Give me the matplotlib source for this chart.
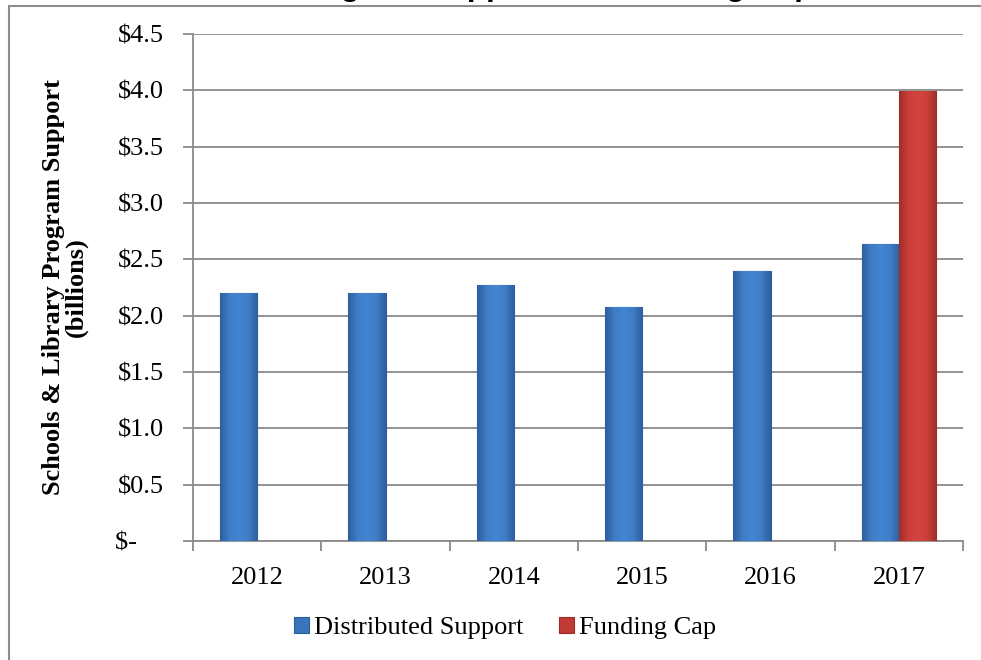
import numpy as np
import matplotlib
matplotlib.use('Agg')
import matplotlib.pyplot as plt
from matplotlib.patches import Rectangle
from matplotlib.colors import LinearSegmentedColormap

# Data (billions of dollars)
years = ['2012', '2013', '2014', '2015', '2016', '2017']
distributed = [2.20, 2.20, 2.27, 2.08, 2.40, 2.64]
funding_cap = [0, 0, 0, 0, 0, 3.99]
yticks = [0, 0.5, 1.0, 1.5, 2.0, 2.5, 3.0, 3.5, 4.0, 4.5]

plt.rcParams['font.family'] = ['Liberation Serif', 'DejaVu Serif']

fig = plt.figure(figsize=(9.81, 6.6), dpi=100)
ax = fig.add_axes([193/981, 1 - 541/660, (963 - 193)/981, (541 - 34)/660])

x = np.arange(len(years))
w = 0.29
blue = '#3A74BC'
red = '#C23A35'
b1 = ax.bar(x - w/2, distributed, w, color=blue, edgecolor='#2C5C98', linewidth=0.8,
            label='Distributed Support', zorder=3)
cap_x = [xi + w/2 for xi, v in zip(x, funding_cap) if v > 0]
cap_v = [v for v in funding_cap if v > 0]
b2 = ax.bar(cap_x, cap_v, w, color=red, edgecolor='#962B27', linewidth=0.8,
            label='Funding Cap', zorder=3)

# soft bevel shading across each bar
shade_b = LinearSegmentedColormap.from_list('b', ['#2F5F9C', '#3E7DC8', '#4385D0', '#3E7DC8', '#2F5F9C'])
shade_r = LinearSegmentedColormap.from_list('r', ['#9E2E2A', '#CB3F39', '#D4443E', '#CB3F39', '#9E2E2A'])
grad = np.linspace(0, 1, 64).reshape(1, -1)
for bars, cmap in [(b1, shade_b), (b2, shade_r)]:
    for p in bars:
        x0, y0 = p.get_x(), p.get_y()
        im = ax.imshow(grad, cmap=cmap, aspect='auto', zorder=3.5,
                       extent=[x0, x0 + p.get_width(), y0, y0 + p.get_height()])
        im.set_clip_path(p)

grid_c = '#8A8A8A'
ax.set_ylim(0, 4.5)
ax.set_xlim(-0.5, len(years) - 0.5)
ax.set_yticks(yticks)
ax.set_yticklabels(['$-    '] + ['$%.1f' % v for v in yticks[1:]], fontsize=19)
ax.yaxis.grid(True, color=grid_c, linewidth=1.3, zorder=0)
ax.set_axisbelow(True)

# year labels at centres, tick marks at the group boundaries
ax.set_xticks(np.arange(-0.5, len(years)), minor=False)
ax.set_xticklabels([])
ax.set_xticks(x, minor=True)
ax.set_xticklabels(years, minor=True, fontsize=19)
ax.tick_params(axis='x', which='major', length=7, width=1.3, color=grid_c, direction='out')
ax.tick_params(axis='x', which='minor', length=0, pad=19)
ax.tick_params(axis='y', length=7, width=1.3, color=grid_c, direction='out', pad=14)

for s in ['top', 'right']:
    ax.spines[s].set_visible(False)
for s in ['left', 'bottom']:
    ax.spines[s].set_color(grid_c)
    ax.spines[s].set_linewidth(1.3)

ax.set_ylabel('Schools & Library Program Support\n(billions)', fontsize=19,
              fontweight='bold', labelpad=20, linespacing=0.95)

leg = fig.legend(loc='center', bbox_to_anchor=(505/981, 1 - 628/660), ncol=2,
                 frameon=False, fontsize=19, handlelength=0.55, handleheight=0.55,
                 handletextpad=0.2, columnspacing=1.35)

# title mostly cut off at the top edge, only descenders visible
fig.text(190/981, 1 + 4.5/660, 'E-rate Program Support and Funding Cap',
         ha='left', va='baseline', fontsize=22.7, fontweight='bold',
         family=['Liberation Sans', 'DejaVu Sans'])

# outer frame of the chart object
fig.patches.append(Rectangle((9/981, -0.1), 1.2, (660 - 6)/660 + 0.1,
                             transform=fig.transFigure, fill=False,
                             edgecolor='#8C8C8C', linewidth=1.5))

fig.savefig('out.png', dpi=100)
